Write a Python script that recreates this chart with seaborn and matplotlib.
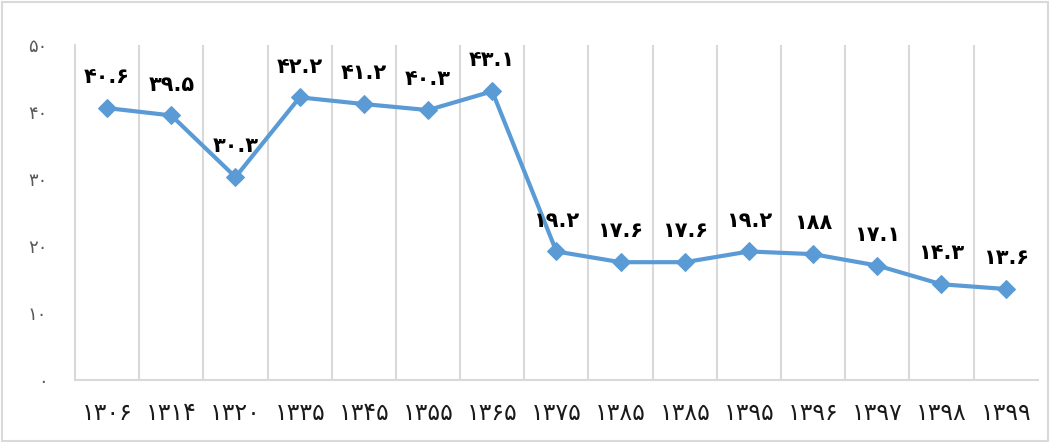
import numpy as np
import matplotlib.pyplot as plt
import pandas as pd
import seaborn as sns

# data
years = ['۱۳۰۶', '۱۳۱۴', '۱۳۲۰', '۱۳۳۵', '۱۳۴۵', '۱۳۵۵', '۱۳۶۵', '۱۳۷۵',
         '۱۳۸۵', '۱۳۸۵', '۱۳۹۵', '۱۳۹۶', '۱۳۹۷', '۱۳۹۸', '۱۳۹۹']
values = [40.6, 39.5, 30.3, 42.2, 41.2, 40.3, 43.1, 19.2,
          17.6, 17.6, 19.2, 18.8, 17.1, 14.3, 13.6]
value_labels = ['۴۰.۶', '۳۹.۵', '۳۰.۳', '۴۲.۲', '۴۱.۲', '۴۰.۳', '۴۳.۱', '۱۹.۲',
                '۱۷.۶', '۱۷.۶', '۱۹.۲', '۱۸۸', '۱۷.۱', '۱۴.۳', '۱۳.۶']
y_ticks = [0, 10, 20, 30, 40, 50]
y_tick_labels = ['۰', '۱۰', '۲۰', '۳۰', '۴۰', '۵۰']

df = pd.DataFrame({'pos': np.arange(len(years)), 'value': values})

sns.set_style('white')
plt.rcParams['font.family'] = ['DejaVu Sans']

fig = plt.figure(figsize=(10.51, 4.42), dpi=100)
ax = fig.add_axes([0.0714, 0.140, 0.916, 0.758])

blue = '#5B9BD5'
grid_c = '#D9D9D9'

sns.lineplot(data=df, x='pos', y='value', ax=ax, color=blue, linewidth=3,
             marker='D', markersize=9, markeredgecolor=blue)

# value labels above each point
for i, (v, lab) in enumerate(zip(values, value_labels)):
    ax.annotate(lab, (i, v), xytext=(0, 15), textcoords='offset points',
                ha='center', va='bottom', fontsize=15, fontweight='bold',
                color='black')

ax.set_xlim(-0.5, len(years) - 0.5)
ax.set_ylim(0, 50)

# vertical grid lines between categories
bounds = np.arange(0.5, len(years) - 0.5, 1)
for b in bounds:
    ax.axvline(b, color=grid_c, linewidth=1.5, zorder=0)

ax.set_xticks(np.arange(len(years)))
ax.set_xticklabels(years, fontsize=17, color='#1a1a1a')
ax.tick_params(axis='x', length=0, pad=15)
# minor ticks at boundaries on the x axis
ax.set_xticks(np.arange(-0.5, len(years) + 0.5, 1), minor=True)
ax.tick_params(axis='x', which='minor', length=6, color=grid_c, width=1.5,
               direction='out')

ax.set_yticks(y_ticks)
ax.set_yticklabels(y_tick_labels, fontsize=13, color='#595959')
ax.tick_params(axis='y', length=6, color=grid_c, width=1.5, pad=14,
               direction='out')

for side in ['top', 'right']:
    ax.spines[side].set_visible(False)
for side in ['left', 'bottom']:
    ax.spines[side].set_color(grid_c)
    ax.spines[side].set_linewidth(1.5)

ax.set_xlabel('')
ax.set_ylabel('')

# outer chart border
fig.patches.append(plt.Rectangle((0.002, 0.003), 0.995, 0.993, transform=fig.transFigure,
                                 fill=False, edgecolor=grid_c, linewidth=1.5))

fig.savefig('out.png', dpi=100)
